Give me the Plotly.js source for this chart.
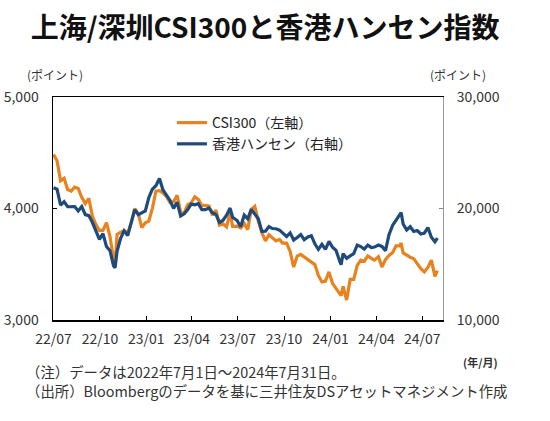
<!DOCTYPE html>
<html>
<head>
<meta charset="utf-8">
<script src="https://cdn.plot.ly/plotly-3.0.1.min.js"></script>
<style>
html,body{margin:0;padding:0;background:#fff;}
#chart{width:550px;height:421px;}
</style>
</head>
<body>
<div id="chart"></div>
<script>
const dates = [
"2022-07-01","2022-07-08","2022-07-15","2022-07-22","2022-07-29",
"2022-08-05","2022-08-12","2022-08-19","2022-08-26",
"2022-09-02","2022-09-09","2022-09-16","2022-09-23","2022-09-30",
"2022-10-07","2022-10-14","2022-10-21","2022-10-28","2022-10-31",
"2022-11-04","2022-11-11","2022-11-18","2022-11-25",
"2022-12-02","2022-12-09","2022-12-16","2022-12-23","2022-12-30",
"2023-01-06","2023-01-13","2023-01-20","2023-01-27",
"2023-02-03","2023-02-10","2023-02-17","2023-02-24",
"2023-03-03","2023-03-10","2023-03-17","2023-03-24","2023-03-31",
"2023-04-07","2023-04-14","2023-04-21","2023-04-28",
"2023-05-05","2023-05-12","2023-05-19","2023-05-26",
"2023-06-02","2023-06-09","2023-06-16","2023-06-21","2023-06-30",
"2023-07-07","2023-07-14","2023-07-21","2023-07-28",
"2023-08-04","2023-08-11","2023-08-18","2023-08-25",
"2023-09-01","2023-09-08","2023-09-15","2023-09-22","2023-09-28",
"2023-10-06","2023-10-13","2023-10-20","2023-10-27",
"2023-11-03","2023-11-10","2023-11-17","2023-11-24",
"2023-12-01","2023-12-08","2023-12-15","2023-12-22","2023-12-29",
"2024-01-05","2024-01-12","2024-01-19","2024-01-22","2024-01-26",
"2024-02-02","2024-02-09","2024-02-16","2024-02-23",
"2024-03-01","2024-03-08","2024-03-15","2024-03-22","2024-03-28",
"2024-04-05","2024-04-12","2024-04-19","2024-04-26",
"2024-05-03","2024-05-10","2024-05-17","2024-05-20","2024-05-24","2024-05-31",
"2024-06-07","2024-06-14","2024-06-21","2024-06-28",
"2024-07-05","2024-07-12","2024-07-19","2024-07-26","2024-07-31"
];
const csi300 = [
4485,4428,4248,4270,4170,
4156,4191,4180,4100,
4044,4091,3932,3856,3804,
3804,3873,3748,3540,3508,
3767,3788,3801,3775,
3870,3998,3954,3828,3872,
3887,4004,4156,4160,
4140,4106,4053,4061,
4119,3967,3958,4034,4051,
4105,4082,4026,4029,
4024,3941,3985,3850,
3862,3836,3963,3840,3842,
3825,3865,3811,3992,
4019,3884,3783,3709,
3765,3734,3709,3723,3690,
3690,3615,3475,3573,
3588,3567,3538,3518,
3497,3400,3341,3349,3431,
3329,3284,3238,3218,3301,
3179,3364,3364,3489,
3537,3527,3575,3553,3537,
3567,3475,3541,3579,
3604,3665,3666,3690,3602,3580,
3563,3550,3503,3461,
3431,3472,3537,3391,3442
];
const hangseng = [
21860,21725,20297,20610,20157,
20202,20175,19773,20170,
19452,19362,18762,18045,17223,
17740,16588,16211,14863,14687,
16161,17326,17993,17573,
18675,19901,19450,19593,19781,
20991,21738,22045,22689,
21660,21190,20719,20010,
20567,19320,19518,19915,20400,
20331,20438,19898,19895,
20049,19627,19450,18746,
18950,19390,20040,19218,18916,
18366,19413,19075,19917,
19539,19075,17950,17956,
18382,18202,18182,18057,17810,
17485,17813,17172,17399,
17664,17203,17454,17559,
16830,16335,16792,16341,17047,
16535,16244,15308,14961,15952,
15533,15747,15944,16726,
16589,16353,16720,16499,16541,
16724,16600,16224,17651,
18476,18964,19553,19636,18609,18079,
18367,17942,18028,17719,
17799,18293,17418,17021,17344
];
const seriesNames = ["CSI300（左軸）","香港ハンセン（右軸）"];
const leftTicks = [3000,4000,5000];
const rightTicks = [10000,20000,30000];

const FONT = '"Noto Sans CJK JP", "Noto Sans", sans-serif';
const TXT = '#333333';

const traces = [
  {x: dates, y: csi300, name: seriesNames[0], type: 'scatter', mode: 'lines',
   line: {color: '#E8821E', width: 3.2}, yaxis: 'y', legendgroup: 'a'},
  {x: dates, y: hangseng, name: seriesNames[1], type: 'scatter', mode: 'lines',
   line: {color: '#1F4A7C', width: 3.2}, yaxis: 'y2', legendgroup: 'b'}
];

const layout = {
  width: 550, height: 421,
  margin: {l: 53, r: 107, t: 97, b: 101},
  paper_bgcolor: '#fff', plot_bgcolor: '#fff',
  font: {family: FONT, color: TXT, size: 14},
  title: {text: '上海/深圳CSI300と香港ハンセン指数', x: 0.482, xanchor: 'center', xref: 'container',
          y: 0.933, yanchor: 'middle', yref: 'container',
          font: {family: FONT, size: 28, weight: 'bold', color: '#111'}},
  showlegend: true,
  legend: {x: 0.305, xanchor: 'left', y: 0.955, yanchor: 'top', bgcolor: 'rgba(0,0,0,0)',
           font: {family: FONT, size: 14, color: '#222'}, itemwidth: 30, tracegroupgap: 6,
           traceorder: 'normal'},
  xaxis: {type: 'date', range: ['2022-06-30', '2024-08-11'],
          tick0: '2022-07-01', dtick: 'M3', tickformat: '%y/%m',
          ticks: 'inside', ticklen: 4, tickcolor: '#000', tickwidth: 1,
          showline: true, linecolor: '#000', linewidth: 1.5, mirror: true,
          showgrid: false, zeroline: false, ticklabelstandoff: 6,
          tickfont: {family: FONT, size: 14, color: TXT}},
  yaxis: {range: [3000, 5000], tickvals: leftTicks, tickformat: ',d',
          ticks: 'inside', ticklen: 4, tickcolor: '#000',
          showline: true, linecolor: '#000', linewidth: 1.5,
          showgrid: false, zeroline: false, ticklabelstandoff: 10,
          tickfont: {family: FONT, size: 14, color: TXT}},
  yaxis2: {range: [10000, 30000], tickvals: rightTicks, tickformat: ',d',
           overlaying: 'y', side: 'right',
           ticks: 'inside', ticklen: 4, tickcolor: '#888',
           showline: true, linecolor: '#999', linewidth: 1,
           showgrid: false, zeroline: false, ticklabelstandoff: 10,
           tickfont: {family: FONT, size: 14, color: TXT}},
  annotations: [
    {text: '(ポイント)', xref: 'paper', yref: 'paper', x: -0.072, y: 1.1, xanchor: 'left', yanchor: 'middle',
     showarrow: false, font: {family: FONT, size: 12, color: TXT}},
    {text: '(ポイント)', xref: 'paper', yref: 'paper', x: 0.962, y: 1.1, xanchor: 'left', yanchor: 'middle',
     showarrow: false, font: {family: FONT, size: 12, color: TXT}},
    {text: '(年/月)', xref: 'paper', yref: 'paper', x: 1.047, y: -0.19, xanchor: 'left', yanchor: 'middle',
     showarrow: false, font: {family: FONT, size: 11, color: TXT, weight: 'bold'}},
    {text: '（注）データは2022年7月1日～2024年7月31日。', xref: 'paper', yref: 'paper', x: -0.075, y: -0.233,
     xanchor: 'left', yanchor: 'middle', showarrow: false, font: {family: FONT, size: 14.4, color: TXT}},
    {text: '（出所）Bloombergのデータを基に三井住友DSアセットマネジメント作成', xref: 'paper', yref: 'paper', x: -0.075, y: -0.318,
     xanchor: 'left', yanchor: 'middle', showarrow: false, font: {family: FONT, size: 14.4, color: TXT}}
  ]
};

Plotly.newPlot('chart', traces, layout, {staticPlot: true, displayModeBar: false});
</script>
</body>
</html>
